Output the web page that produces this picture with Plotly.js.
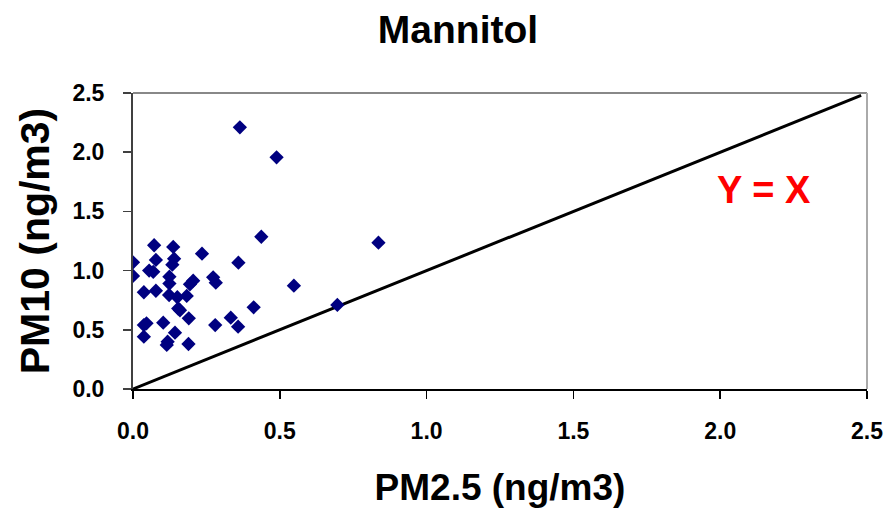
<!DOCTYPE html>
<html>
<head>
<meta charset="utf-8">
<script src="https://cdn.plot.ly/plotly-3.0.1.min.js"></script>
<style>html,body{margin:0;padding:0;background:#fff;}#chart{width:891px;height:515px;}</style>
</head>
<body>
<div id="chart"></div>
<script>
// PM2.5 vs PM10 mannitol concentrations (ng/m3)
const pm25 = [0.000,0.000,0.072,0.137,0.078,0.140,0.134,0.235,0.359,0.437,
              0.055,0.069,0.124,0.124,0.205,0.194,0.273,0.282,0.037,0.078,
              0.123,0.151,0.183,0.154,0.160,0.411,0.190,0.037,0.046,0.103,
              0.280,0.333,0.358,0.037,0.143,0.118,0.115,0.189,0.836,0.548,
              0.696,0.364,0.489];
const pm10 = [1.07,0.955,1.214,1.20,1.09,1.10,1.05,1.143,1.067,1.286,
              1.00,0.99,0.949,0.89,0.915,0.884,0.943,0.898,0.817,0.83,
              0.794,0.775,0.786,0.68,0.665,0.69,0.597,0.54,0.555,0.56,
              0.54,0.602,0.526,0.442,0.476,0.40,0.372,0.38,1.236,0.873,
              0.71,2.21,1.957];
const lineX = [0, 2.48];
const lineY = [0, 2.48];
const tickVals = [0, 0.5, 1.0, 1.5, 2.0, 2.5];
const tickText = ['0.0','0.5','1.0','1.5','2.0','2.5'];

const FONT = 'Liberation Sans, Arial, sans-serif';

const traces = [
  {x: lineX, y: lineY, mode: 'lines', type: 'scatter',
   line: {color: '#000000', width: 3}, hoverinfo: 'skip', showlegend: false},
  {x: pm25, y: pm10, mode: 'markers', type: 'scatter',
   marker: {symbol: 'diamond', size: 11, color: '#000080'}, showlegend: false}
];

const axisCommon = {
  range: [0, 2.5], tickvals: tickVals, ticktext: tickText,
  ticks: 'outside', ticklen: 8, tickwidth: 1.5, showgrid: false, zeroline: false,
  showline: true, linewidth: 2,
  tickfont: {family: FONT, size: 23, color: '#000', weight: 'bold'}
};

const layout = {
  width: 891, height: 515,
  margin: {l: 133, r: 24, t: 93, b: 126},
  paper_bgcolor: '#fff', plot_bgcolor: '#fff',
  title: {text: 'Mannitol', x: 0.514, xanchor: 'center', y: 0.97, yanchor: 'top',
          font: {family: FONT, size: 39, color: '#000', weight: 'bold'}},
  xaxis: Object.assign({}, axisCommon, {
    linecolor: '#000', tickcolor: '#000', ticklabelstandoff: 12,
    title: {text: 'PM2.5 (ng/m3)', standoff: 32,
            font: {family: FONT, size: 37, color: '#000', weight: 'bold'}}
  }),
  yaxis: Object.assign({}, axisCommon, {
    linecolor: '#404040', tickcolor: '#404040', ticklabelstandoff: 14,
    title: {text: 'PM10 (ng/m3)', standoff: 10,
            font: {family: FONT, size: 41, color: '#000', weight: 'bold'}}
  }),
  shapes: [
    {type: 'line', xref: 'x domain', yref: 'y domain', x0: 0, x1: 1, y0: 1, y1: 1,
     line: {color: '#888', width: 2}},
    {type: 'line', xref: 'x domain', yref: 'y domain', x0: 1, x1: 1, y0: 0, y1: 1,
     line: {color: '#aaa', width: 2}}
  ],
  annotations: [
    {x: 2.15, y: 1.68, xref: 'x', yref: 'y', text: 'Y = X', showarrow: false,
     font: {family: FONT, size: 38, color: '#ff0000', weight: 'bold'}}
  ]
};

Plotly.newPlot('chart', traces, layout, {displayModeBar: false, staticPlot: true});
</script>
</body>
</html>
